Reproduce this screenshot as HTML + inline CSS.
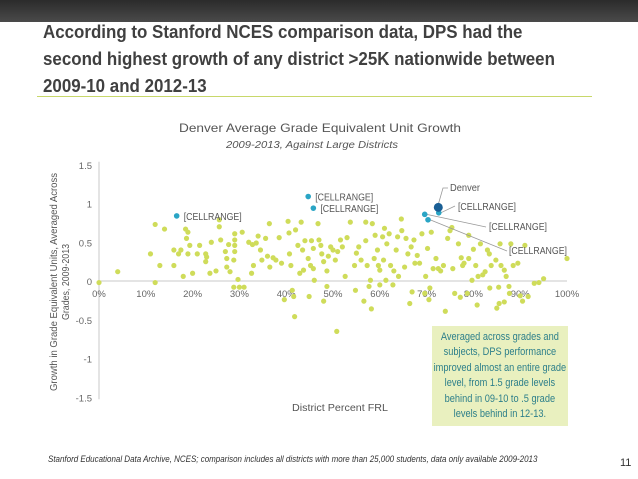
<!DOCTYPE html>
<html><head><meta charset="utf-8"><style>
body{margin:0;width:638px;height:479px;background:#fff;overflow:hidden;position:relative;font-family:"Liberation Sans",sans-serif}
#topbar{position:absolute;left:0;top:0;width:638px;height:22px;background:linear-gradient(#2b2b2b,#4a4a4a)}
#title{position:absolute;left:43px;top:19px;font-weight:bold;font-size:18px;line-height:27px;color:#404040;white-space:nowrap;transform:scaleX(0.94);transform-origin:0 0}
#rule{position:absolute;left:37px;top:96px;width:555px;height:1px;background:#c8d86a}
#footer{position:absolute;left:48px;top:454px;font-size:9.5px;font-style:italic;color:#333;white-space:nowrap;transform:scaleX(0.84);transform-origin:0 0}
#pnum{position:absolute;left:620px;top:457px;font-size:11px;color:#333}
#callout{position:absolute;left:432px;top:326px;width:136px;height:100px;background:#e9f0bf;color:#2d7f8a;font-size:11px;line-height:15.5px;text-align:center;display:flex;align-items:center;justify-content:center}
#callout span{display:inline-block;white-space:nowrap;transform:scaleX(0.84)}
svg{position:absolute;left:0;top:0}
</style></head><body>
<div id="topbar"></div>
<div id="title">According to Stanford NCES comparison data, DPS had the<br>second highest growth of any district &gt;25K nationwide between<br>2009-10 and 2012-13</div>
<div id="rule"></div>
<svg id="chart" width="638" height="479" font-family="Liberation Sans, sans-serif">
<text x="320" y="132" text-anchor="middle" font-size="12" fill="#555" textLength="282" lengthAdjust="spacingAndGlyphs">Denver Average Grade Equivalent Unit Growth</text>
<text x="312" y="148" text-anchor="middle" font-size="10" font-style="italic" fill="#555" textLength="172" lengthAdjust="spacingAndGlyphs">2009-2013, Against Large Districts</text>
<text transform="translate(57,282) rotate(-90)" text-anchor="middle" font-size="10" fill="#555" textLength="218" lengthAdjust="spacingAndGlyphs">Growth in Grade Equivalent Units, Averaged Across</text>
<text transform="translate(69,282) rotate(-90)" text-anchor="middle" font-size="10" fill="#555" textLength="76" lengthAdjust="spacingAndGlyphs">Grades, 2009-2013</text>
<text x="340" y="411" text-anchor="middle" font-size="10" fill="#555" textLength="96" lengthAdjust="spacingAndGlyphs">District Percent FRL</text>
<g id="axes"></g><g id="pts"></g><g id="hl"></g>
</svg>
<div id="callout"><span>Averaged across grades and<br>subjects, DPS performance<br>improved almost an entire grade<br>level, from 1.5 grade levels<br>behind in 09-10 to .5 grade<br>levels behind in 12-13.</span></div>
<div id="footer">Stanford Educational Data Archive, NCES; comparison includes all districts with more than 25,000 students, data only available 2009-2013</div>
<div id="pnum">11</div>
<script>
const xTicks=[0,10,20,30,40,50,60,70,80,90,100];
const yTicks=[1.5,1,0.5,0,-0.5,-1,-1.5];
const ptsX=[4,0,11,12,12,13,14,16,16,17,17.5,18,18.5,18.7,19,19,19.4,20,21,21.5,22.8,22.8,23,23.7,24,25,25.7,25.7,26,27,27.3,27.3,27.7,28,28.8,29,29,29,29,28.8,29.7,30,30.6,31,32,32.6,32.8,33,33.6,34,34.5,34.8,35.6,36,36.4,36.5,37.2,37.8,38.5,39,39.6,40.4,40.6,40.7,41,41.3,41.6,41.8,42,42.5,42.9,43.2,43.5,43.7,44,44.7,44.9,45.2,45.4,45.8,45.8,46,46.8,47,47.4,47.6,48,48,48.7,48.7,49,49.5,50,50.5,50.8,51,51.6,52,52.6,53,53.7,54.6,54.8,55,55.5,56,56.6,57,57,57.3,57.7,58,58.2,58.4,58.8,59,59.5,59.7,60,60,60.6,60.8,61,61.3,61.5,62,62.3,62.8,63,63.5,63.8,64,64.6,64.7,65.3,65.6,66,66.4,66.7,66.9,67.3,67.5,68,68.5,69,69.6,69.8,70.2,70.5,70.7,71,71.4,72,72.5,73,73.6,74,74.5,75,75.4,75.6,76,76.8,77.2,77.4,77.7,78,78.7,79,79,79.7,80,80.5,80.8,81,81.5,82,82.5,83,83.4,83.5,83.8,84.8,85,85.4,85.5,85.7,85.9,86.6,87,87.6,87.7,88,88.5,89.5,90,90.5,91,91.7,93,94,95,100,86.6];
const ptsY=[0.12,-0.02,0.35,0.73,-0.02,0.2,0.67,0.4,0.2,0.35,0.4,0.06,0.67,0.55,0.63,0.35,0.46,0.1,0.35,0.46,0.35,0.25,0.31,0.1,0.5,0.13,0.79,0.7,0.53,0.38,0.29,0.18,0.47,0.12,0.27,0.61,0.53,0.38,0.46,-0.08,0.02,-0.08,0.63,-0.08,0.5,0.1,0.47,0.2,0.49,0.58,0.4,0.27,0.55,0.32,0.74,0.18,0.3,0.27,0.56,0.23,-0.24,0.77,0.62,0.35,0.2,-0.12,-0.2,-0.46,0.66,0.46,0.1,0.76,0.4,0.14,0.52,0.29,-0.2,0.2,0.52,0.42,0.16,0.01,0.74,0.53,0.46,0.35,-0.26,0.25,0.13,-0.07,0.32,0.44,0.4,0.27,-0.65,0.38,0.53,0.44,0.06,0.56,0.76,0.2,-0.12,0.36,0.44,0.27,-0.26,0.76,0.52,0.2,-0.07,0.01,-0.36,0.74,0.29,0.59,0.4,0.2,-0.05,0.14,0.57,0.27,0.68,0.01,0.48,0.61,0.2,-0.05,0.13,0.4,0.57,0.06,0.8,0.65,0.18,0.55,0.35,-0.29,0.44,-0.14,0.53,0.23,0.33,0.23,0.61,-0.16,0.06,0.42,-0.24,-0.09,0.63,0.16,0.29,0.16,0.13,0.2,-0.39,0.55,0.65,0.69,0.16,-0.16,0.48,-0.21,0.3,0.2,0.23,-0.16,0.59,0.29,0.01,0.41,0.2,-0.31,0.06,0.48,0.08,0.12,0.4,0.35,-0.09,0.2,0.27,-0.35,-0.08,-0.29,0.48,0.2,0.14,0.06,-0.07,-0.16,0.48,0.2,0.23,-0.19,-0.26,0.46,-0.2,-0.03,-0.02,0.03,0.29,-0.27];
const hlX=[16.6,44.7,45.8,69.6,70.3,72.6];
const hlY=[0.84,1.09,0.94,0.86,0.79,0.88];
const denverX=72.5, denverY=0.95;
const NS='http://www.w3.org/2000/svg';
const xs=v=>99+v*4.68;
const ys=v=>281-v*77.5;
function mk(t,a,p){const e=document.createElementNS(NS,t);for(const k in a)e.setAttribute(k,a[k]);p.appendChild(e);return e;}
const ax=document.getElementById('axes');
const yl=mk('line',{x1:xs(0),x2:xs(0),y1:ys(1.5)-3,y2:ys(-1.5)+2,stroke:'#c8c8c8'},ax);


const xl=mk('line',{x1:xs(0),x2:xs(100),y1:ys(0),y2:ys(0),stroke:'#c8c8c8'},ax);


yTicks.forEach(v=>{const t=mk('text',{x:92,y:ys(v)+4,'text-anchor':'end','font-size':9.5,fill:'#666'},ax);t.textContent=String(v);

});
xTicks.forEach(v=>{const t=mk('text',{x:xs(v),y:ys(0)+16,'text-anchor':'middle','font-size':9.5,fill:'#666'},ax);t.textContent=v+'%';

});
const pg=document.getElementById('pts');
ptsX.forEach((x,i)=>{const c=mk('circle',{cx:xs(x),cy:ys(ptsY[i]),r:2.6,fill:'#cfdc5a'},pg);

});
const hg=document.getElementById('hl');
function line(pts){const p=mk('polyline',{points:pts.map(q=>q.join(',')).join(' '),fill:'none',stroke:'#999','stroke-width':0.8},hg);

}
function lab(x,y,s){const t=mk('text',{x:x,y:y,'font-size':10,fill:'#555',textLength:s.length>7?58:30,lengthAdjust:'spacingAndGlyphs'},hg);t.textContent=s;

}
line([[xs(denverX),ys(denverY)-3],[443,188],[448,188]]);
line([[xs(hlX[5])+2,ys(hlY[5])],[455,206]]);
line([[xs(hlX[3])+2,ys(hlY[3])],[486,227]]);
line([[xs(hlX[4])+2,ys(hlY[4])],[507,251]]);
hlX.forEach((x,i)=>{const c=mk('circle',{cx:xs(x),cy:ys(hlY[i]),r:2.8,fill:'#2aa5c5'},hg);

});
const d=mk('circle',{cx:xs(denverX),cy:ys(denverY),r:4.5,fill:'#1a5f95'},hg);


lab(xs(hlX[0])+7,ys(hlY[0])+4,'[CELLRANGE]');
lab(xs(hlX[1])+7,ys(hlY[1])+4,'[CELLRANGE]');
lab(xs(hlX[2])+7,ys(hlY[2])+4,'[CELLRANGE]');
lab(450,191,'Denver');
lab(458,210,'[CELLRANGE]');
lab(489,230,'[CELLRANGE]');
lab(509,254,'[CELLRANGE]');
</script>
</body></html>
